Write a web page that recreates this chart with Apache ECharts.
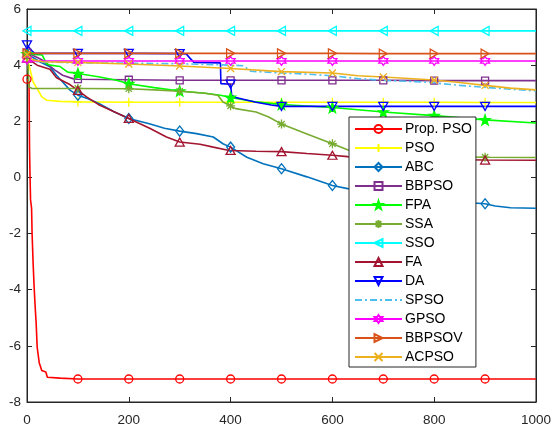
<!DOCTYPE html>
<html><head><meta charset="utf-8">
<script src="https://cdn.jsdelivr.net/npm/echarts@6/dist/echarts.min.js"></script>
<style>html,body{margin:0;padding:0;background:#fff}#c{width:554px;height:430px}</style>
</head><body><div id="c"></div>
<script>
// ---- data (x = iteration, y = fitness) ----
const xTicks = [0, 200, 400, 600, 800, 1000];
const yTicks = [-8, -6, -4, -2, 0, 2, 4, 6];
const seriesNames = ['Prop. PSO','PSO','ABC','BBPSO','FPA','SSA','SSO','FA','DA','SPSO','GPSO','BBPSOV','ACPSO'];
const markerIters = [0,100,200,300,400,500,600,700,800,900];

const propPSO = [[0,3.5],[4,3.4],[5,1.0],[6,0],[7,-0.8],[9,-1.1],[10,-2],[12,-3.05],[14,-3.9],[16,-4.6],[18,-5.2],[20,-6.05],[24,-6.6],[29,-6.88],[37,-6.93],[40,-7.12],[65,-7.15],[100,-7.18],[200,-7.18],[300,-7.18],[400,-7.18],[500,-7.18],[600,-7.18],[700,-7.18],[800,-7.18],[900,-7.18],[1000,-7.18]];
const pso = [[0,4.2],[4,4.0],[12,3.4],[22,3.1],[29,2.87],[39,2.75],[65,2.71],[100,2.69],[200,2.68],[300,2.68],[400,2.68],[500,2.68],[600,2.68],[700,2.68],[800,2.68],[900,2.67],[1000,2.67]];
const abc = [[0,4.4],[25,4.12],[45,3.94],[58,3.64],[70,3.4],[85,3.1],[100,2.93],[120,2.8],[143,2.62],[170,2.35],[200,2.1],[242,1.9],[270,1.75],[300,1.65],[333,1.56],[366,1.44],[385,1.2],[400,1.08],[432,0.72],[464,0.49],[500,0.31],[550,0.02],[600,-0.29],[630,-0.4],[680,-0.46],[700,-0.55],[750,-0.7],[800,-0.8],[850,-0.88],[900,-0.94],[920,-1.02],[950,-1.08],[1000,-1.1]];
const bbpso = [[0,4.45],[30,4.18],[55,3.82],[70,3.64],[90,3.52],[100,3.5],[200,3.48],[300,3.46],[400,3.46],[500,3.46],[600,3.46],[700,3.46],[800,3.45],[900,3.45],[1000,3.45]];
const fpa = [[0,4.4],[30,4.36],[38,4.06],[45,4.0],[65,3.95],[80,3.75],[100,3.7],[143,3.58],[176,3.46],[200,3.34],[250,3.2],[300,3.08],[350,3.0],[380,2.93],[400,2.85],[450,2.69],[500,2.6],[600,2.49],[700,2.33],[800,2.2],[900,2.05],[1000,1.94]];
const ssa = [[0,4.3],[2,4.0],[4,3.22],[10,3.17],[100,3.17],[200,3.16],[250,3.12],[300,3.07],[350,3.0],[375,2.93],[385,2.69],[400,2.55],[410,2.45],[450,2.33],[475,2.15],[500,1.9],[550,1.55],[600,1.2],[631,0.98],[650,0.88],[700,0.8],[800,0.74],[900,0.72],[1000,0.71]];
const sso = [[0,5.22],[100,5.22],[200,5.22],[300,5.22],[400,5.22],[500,5.22],[600,5.22],[700,5.22],[800,5.22],[900,5.22],[1000,5.22]];
const fa = [[0,4.25],[20,4.0],[45,3.85],[58,3.55],[85,3.3],[100,3.1],[117,2.87],[140,2.6],[170,2.35],[200,2.1],[242,1.74],[274,1.44],[300,1.26],[340,1.18],[366,1.08],[395,0.97],[400,0.96],[450,0.93],[500,0.92],[550,0.85],[600,0.79],[630,0.74],[700,0.68],[800,0.64],[900,0.62],[1000,0.61]];
const da = [[0,4.72],[10,4.5],[15,4.42],[100,4.42],[200,4.42],[300,4.41],[313,4.4],[320,4.25],[328,4.1],[380,4.08],[381,3.34],[400,3.32],[402,2.93],[410,2.85],[450,2.68],[480,2.58],[500,2.53],[600,2.53],[700,2.53],[800,2.53],[900,2.53],[1000,2.53]];
const spso = [[0,4.25],[20,4.12],[100,4.08],[200,4.07],[300,4.05],[400,4.0],[425,3.98],[440,3.78],[500,3.72],[550,3.68],[600,3.62],[650,3.52],[700,3.46],[780,3.4],[850,3.28],[920,3.18],[1000,3.08]];
const gpso = [[0,4.2],[10,4.15],[100,4.15],[200,4.15],[300,4.15],[400,4.15],[500,4.15],[600,4.15],[700,4.15],[800,4.15],[900,4.15],[1000,4.15]];
const bbpsov = [[0,4.42],[100,4.42],[200,4.42],[300,4.42],[400,4.42],[500,4.42],[600,4.42],[700,4.41],[800,4.41],[900,4.41],[1000,4.41]];
const acpso = [[0,4.38],[10,4.2],[30,4.12],[100,4.1],[200,4.04],[300,3.97],[400,3.88],[500,3.77],[600,3.72],[650,3.62],[700,3.58],[800,3.47],[850,3.38],[900,3.28],[950,3.18],[1000,3.12]];

const seriesData = [propPSO, pso, abc, bbpso, fpa, ssa, sso, fa, da, spso, gpso, bbpsov, acpso];

// ---- styles ----
const colors = ['#FF0000','#FFFF00','#0072BD','#7E2F8E','#00FF00','#77AC30','#00FFFF','#A2142F','#0000FF','#4DBEEE','#FF00FF','#D95319','#EDB120'];
const P_PLUS = 'path://M5,0L5,10M0,5L10,5';
const P_X = 'path://M0,0L10,10M10,0L0,10';
const P_AST = 'path://M5,0L5,10M0,5L10,5M1.5,1.5L8.5,8.5M8.5,1.5L1.5,8.5';
const P_STAR = 'path://M5,0L6.18,3.38L9.76,3.45L6.9,5.62L7.94,9.05L5,7L2.06,9.05L3.1,5.62L0.24,3.45L3.82,3.38Z';
const P_HEX = 'path://M5,0L6.44,2.5L9.33,2.5L7.89,5L9.33,7.5L6.44,7.5L5,10L3.56,7.5L0.67,7.5L2.11,5L0.67,2.5L3.56,2.5Z';
const markers = [
  {s:'circle', size:8, rot:0},
  {s:P_PLUS, size:9, rot:0},
  {s:'diamond', size:[8,10], rot:0},
  {s:'rect', size:7, rot:0},
  {s:P_STAR, size:10, rot:0, fill:true},
  {s:P_AST, size:9, rot:0},
  {s:'triangle', size:[9,8], rot:90},
  {s:'triangle', size:[9,8], rot:0},
  {s:'triangle', size:[9,8], rot:180},
  {s:'circle', size:0, rot:0, hidden:true},
  {s:P_HEX, size:9, rot:0},
  {s:'triangle', size:[9,8], rot:-90},
  {s:P_X, size:7, rot:0}
];
const FONT = "'Liberation Sans', Arial, Helvetica, sans-serif";
const AX = '#262626';
const CLEAR = 'rgba(0,0,0,0)';

function build(arr){
  return arr.map(p => markerIters.indexOf(p[0]) >= 0 ? {value:p} : {value:p, symbol:'none'});
}

const series = seriesNames.map((name, i) => {
  const m = markers[i];
  return {
    name: name, type: 'line', data: m.hidden ? seriesData[i] : build(seriesData[i]),
    xAxisIndex: 0, yAxisIndex: 0,
    symbol: m.s, symbolSize: m.size, symbolRotate: m.rot, showAllSymbol: true, showSymbol: !m.hidden,
    lineStyle: {color: colors[i], width: 1.6, type: i === 9 ? [7,3,2,3] : 'solid'},
    itemStyle: m.hidden ? {color: CLEAR, borderColor: CLEAR, borderWidth: 0} :
      {color: m.fill ? colors[i] : CLEAR, borderColor: colors[i], borderWidth: 1.3},
    emphasis: {disabled: true}, animation: false
  };
});

function axisCommon(extra){
  return Object.assign({
    axisLine: {show: true, onZero: false, lineStyle: {color: AX, width: 1}},
    axisTick: {show: true, inside: true, length: 5, lineStyle: {color: AX}},
    splitLine: {show: false}
  }, extra);
}

const chart = echarts.init(document.getElementById('c'), null, {renderer: 'canvas'});
chart.setOption({
  backgroundColor: '#fff',
  animation: false,
  textStyle: {fontFamily: FONT},
  grid: {left: 27, right: 18, top: 9, bottom: 28, show: true, borderColor: AX, borderWidth: 1, backgroundColor: '#fff'},
  xAxis: [
    axisCommon({type: 'value', min: 0, max: 1000, interval: 200, position: 'bottom',
     axisLabel: {color: AX, fontSize: 13.5, margin: 11, fontFamily: FONT, formatter: v => xTicks.indexOf(v) >= 0 ? String(v) : ''}}),
    axisCommon({type: 'value', min: 0, max: 1000, interval: 200, position: 'top', axisLabel: {show: false}})
  ],
  yAxis: [
    axisCommon({type: 'value', min: -8, max: 6, interval: 2, position: 'left',
     axisLabel: {color: AX, fontSize: 13.5, margin: 6, fontFamily: FONT, formatter: v => yTicks.indexOf(v) >= 0 ? String(v) : ''}}),
    axisCommon({type: 'value', min: -8, max: 6, interval: 2, position: 'right', axisLabel: {show: false}})
  ],
  legend: {
    orient: 'vertical', left: 349, top: 117,
    data: seriesNames,
    backgroundColor: '#fff', borderColor: AX, borderWidth: 1, borderRadius: 0,
    padding: [5, 4, 3, 5],
    itemWidth: 47, itemHeight: 10, itemGap: 5,
    textStyle: {fontSize: 14, color: '#000', fontFamily: FONT, padding: [0, 0, 0, -2]},
    selectedMode: false
  },
  series: series
});
</script></body></html>
